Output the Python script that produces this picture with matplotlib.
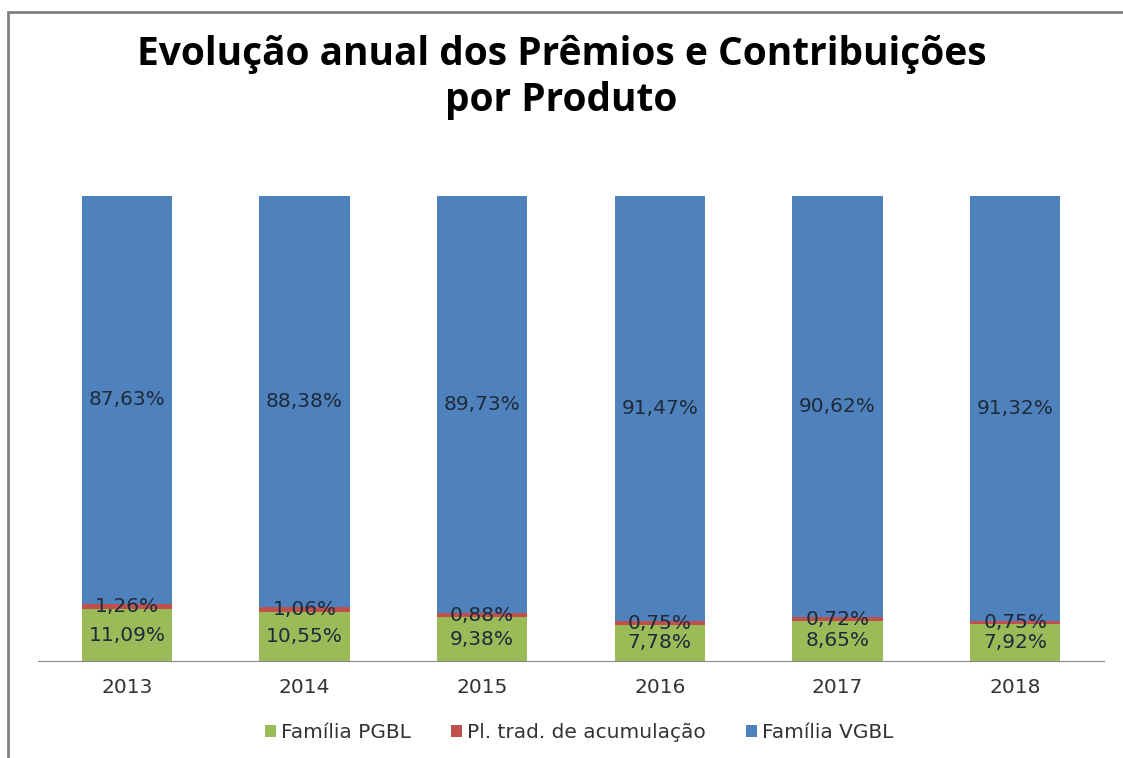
import matplotlib.pyplot as plt
import numpy as np
from matplotlib.patches import Rectangle

anos = ['2013', '2014', '2015', '2016', '2017', '2018']
pgbl = [11.09, 10.55, 9.38, 7.78, 8.65, 7.92]
trad = [1.26, 1.06, 0.88, 0.75, 0.72, 0.75]
vgbl = [87.63, 88.38, 89.73, 91.47, 90.62, 91.32]

series = ['Família PGBL', 'Pl. trad. de acumulação', 'Família VGBL']
cores = ['#9BBB59', '#C0504D', '#4F81BD']

plt.rcParams['font.family'] = ['DejaVu Sans']

W, H = 1123, 758
fig = plt.figure(figsize=(W / 100, H / 100), dpi=100)
ax = fig.add_axes([38 / W, 1 - 661 / H, (1104 - 38) / W, (661 - 196) / H])

x = np.arange(len(anos))
base = np.zeros(len(anos))
for vals, nome, cor in zip([pgbl, trad, vgbl], series, cores):
    vals = np.array(vals)
    ax.bar(x, vals, 0.51, bottom=base, color=cor, label=nome)
    for xi, b, v in zip(x, base, vals):
        ax.text(xi, b + v / 2, f'{v:.2f}%'.replace('.', ','), ha='center', va='center',
                fontsize=14.5, color='#1f2a3a')
    base = base + vals

ax.set_xlim(-0.5, len(anos) - 0.5)
ax.set_ylim(0, 100)
ax.set_xticks(x, anos)
ax.tick_params(axis='x', length=0, pad=12, labelsize=14.5, labelcolor='#333333')
ax.set_yticks([])
for s in ['top', 'right', 'left']:
    ax.spines[s].set_visible(False)
ax.spines['bottom'].set_color('#888888')

fig.text(0.5, 1 - 55 / H, 'Evolução anual dos Prêmios e Contribuições', ha='center', va='center',
         fontsize=28, fontweight='bold', family='Open Sans')
fig.text(0.5, 1 - 100 / H, 'por Produto', ha='center', va='center',
         fontsize=28, fontweight='bold', family='Open Sans')

fig.legend(loc='center', bbox_to_anchor=(579 / W, 1 - 733 / H), ncol=3, frameon=False,
           fontsize=14.5, handlelength=0.55, handleheight=0.55, handletextpad=0.25, columnspacing=2.0,
           labelcolor='#333333')

fig.patches.append(Rectangle((8 / W, -0.1), 1.2, 1 - 12 / H + 0.1, transform=fig.transFigure,
                             fill=False, edgecolor='#808080', linewidth=2))

fig.savefig('out.png', dpi=100)
